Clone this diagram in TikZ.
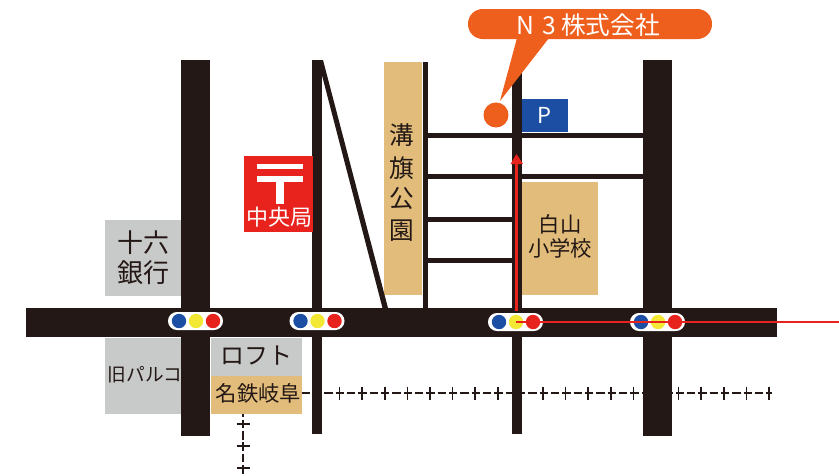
\documentclass[tikz,border=0pt]{standalone}
\usepackage{fontspec}
\setmainfont{Noto Sans CJK JP}
\definecolor{roadc}{HTML}{231815}
\definecolor{orangec}{HTML}{EE5E1C}
\definecolor{tanc}{HTML}{E2BC7A}
\definecolor{grayc}{HTML}{C8C9C9}
\definecolor{redc}{HTML}{E8221C}
\definecolor{bluec}{HTML}{1C4EA3}
\definecolor{yellowc}{HTML}{F3E834}
\newcommand{\fs}[1]{\fontsize{#1}{#1}\selectfont}
\begin{document}
\begin{tikzpicture}[x=0.75pt,y=-0.75pt,
  road/.style={fill=roadc,draw=none},
  lbl/.style={inner sep=0pt,text=roadc},
  wlbl/.style={inner sep=0pt,text=white},
  rail/.style={roadc,line width=1.2pt},
  pill/.style={fill=white,draw=none,rounded corners=6.7pt},
  lamp/.style={circle,minimum size=10.8pt,inner sep=0pt,draw=none}]
\useasboundingbox (0,0) rectangle (839,475);
% blocks
\fill[grayc] (105,220) rectangle (181,296);
\fill[grayc] (105,338) rectangle (181,414);
\fill[grayc] (211,338) rectangle (302,376);
\fill[tanc] (211,376) rectangle (302,414);
\fill[tanc] (384,62) rectangle (422,295);
\fill[tanc] (522,182) rectangle (598,295);
\node[lbl,font=\fs{14}] (parco) at (145,375) {旧パルコ};
% roads
\fill[road] (26,308) rectangle (777,337);
\fill[road] (181,60) rectangle (210,436);
\fill[road] (312,60) rectangle (322,434);
\fill[road] (643,60) rectangle (672,436);
\fill[road] (423,62) rectangle (428,308);
\fill[road] (512,60) rectangle (522,434);
\fill[road] (428,133) rectangle (643,138);
\fill[road] (428,174) rectangle (643,179);
\fill[road] (428,217) rectangle (512,222);
\fill[road] (428,258) rectangle (512,263);
\fill[road] (318,60) -- (323,60) -- (388,308) -- (382.5,308) -- cycle;
% rail
\draw[rail,dash pattern=on 6.3pt off 2.2pt] (301.5,393) -- (772,393);
\foreach \k in {0,...,20} \draw[rail] ({317+22.6*\k},386.5) -- ({317+22.6*\k},399.5);
\draw[rail,dash pattern=on 6.3pt off 2.2pt,dash phase=4.15pt] (243,414) -- (243,475);
\foreach \y in {424,446,468} \draw[rail] (236.5,\y) -- (249.5,\y);
% station labels
\node[lbl,font=\fs{18}] (loft) at (256,356) {ロフト};
\node[lbl,font=\fs{16}] (meitetsu) at (258.5,393) {名鉄岐阜};
\node[lbl,font=\fs{19.5},align=center] (juroku) at (143,258) {十六\\[3pt]銀行};
\node[lbl,font=\fs{16},align=center] (school) at (560,236) {白山\\[2pt]小学校};
\node[lbl,font=\fs{18.5}] (p1) at (402,135) {溝};
\node[lbl,font=\fs{18.5}] (p2) at (402,168) {旗};
\node[lbl,font=\fs{18.5}] (p3) at (402,199) {公};
\node[lbl,font=\fs{18.5}] (p4) at (402,231) {園};
% post office
\fill[redc] (244,156) rectangle (313,232);
\fill[white] (257,164) rectangle (303,169);
\fill[white] (257,176) rectangle (303,182);
\fill[white] (276,182) rectangle (284,204);
\node[wlbl,font=\fs{16.5}] (post) at (279,217) {中央局};
% parking
\fill[bluec] (522,99) rectangle (568,132);
\node[wlbl,font=\fs{16.5}] (parking) at (544,115) {P};
% callout
\fill[orangec] (517,38) -- (500,101) -- (549,38) -- cycle;
\fill[orangec,rounded corners=11pt] (468,9) rectangle (712,39);
\node[wlbl,font=\fs{18.5}] (company) at (588,25) {N\,\,3 株式会社};
\node[circle,fill=orangec,minimum size=18.8pt,inner sep=0pt] (spot) at (496,115) {};
% signals
\foreach \a/\yy in {168/321,289.5/321,488/322,630/322}{
  \fill[pill] (\a,\yy-9) rectangle (\a+55,\yy+9);
  \node[lamp,fill=bluec] at (\a+11,\yy) {};
  \node[lamp,fill=yellowc] at (\a+28,\yy) {};
  \node[lamp,fill=redc] at (\a+45,\yy) {};
}
% route
\coordinate (routeStart) at (516.5,311);
\coordinate (routeH) at (516,322);
\coordinate (routeEnd) at (839,322);
\draw[redc,line width=1.6pt] (routeStart) -- (516.5,163);
\fill[redc] (516.5,154) -- (523,164) -- (510.5,164) -- cycle;
\draw[redc,line width=1.6pt] (routeH) -- (routeEnd);
\end{tikzpicture}
\end{document}
